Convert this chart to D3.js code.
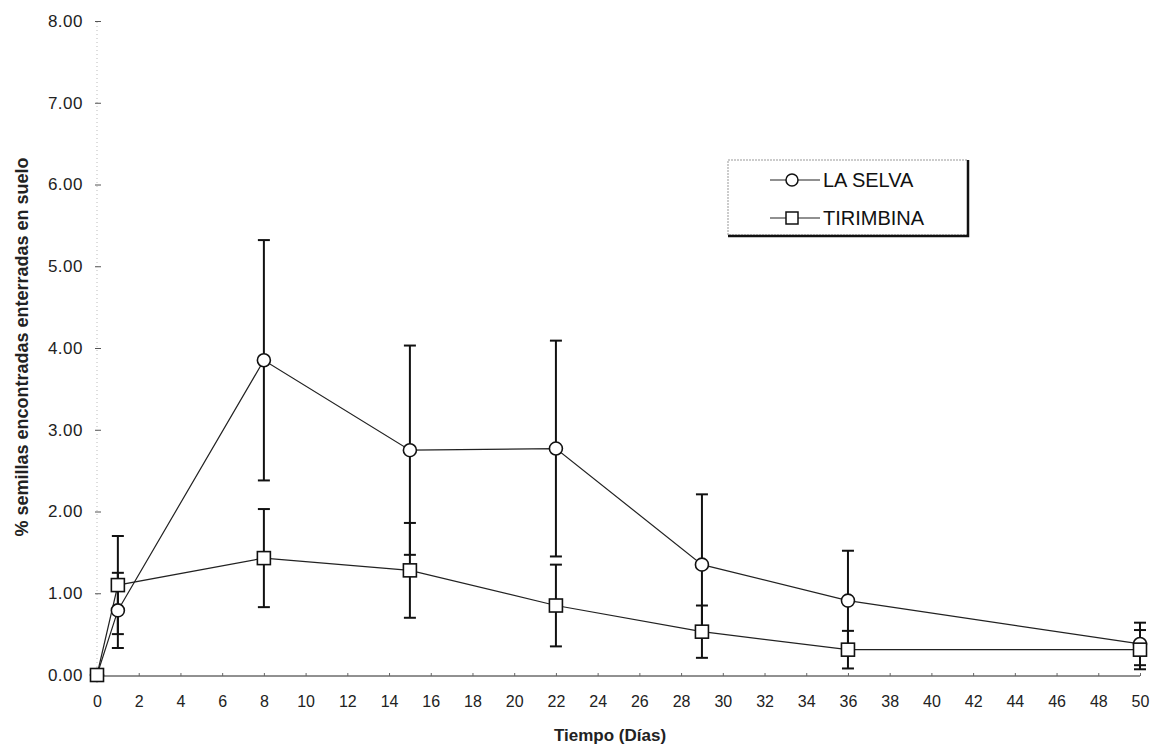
<!DOCTYPE html>
<html>
<head>
<meta charset="utf-8">
<script src="https://cdn.jsdelivr.net/npm/d3@7"></script>
<style>
    body { margin: 0; background: #fff; }
    svg { font-family: "Liberation Sans", Arial, sans-serif; }
</style>
</head>
<body>
<script>
const width = 1151;
const height = 748;
const margin = { top: 21, right: 11, bottom: 73, left: 97 };

// datos
const days = [0, 1, 8, 15, 22, 29, 36, 50];
const laSelva = [0, 0.79, 3.85, 2.75, 2.77, 1.35, 0.91, 0.38];
const laSelvaErr = [0, 0.46, 1.47, 1.28, 1.32, 0.86, 0.61, 0.26];
const tirimbina = [0, 1.10, 1.43, 1.28, 0.85, 0.53, 0.31, 0.31];
const tirimbinaErr = [0, 0.60, 0.60, 0.58, 0.50, 0.32, 0.23, 0.24];

const xTicks = [0, 2, 4, 6, 8, 10, 12, 14, 16, 18, 20, 22, 24, 26, 28, 30, 32, 34, 36, 38, 40, 42, 44, 46, 48, 50];
const yTicks = [0, 1, 2, 3, 4, 5, 6, 7, 8];
const seriesNames = ['LA SELVA', 'TIRIMBINA'];

const svg = d3.select('body').append('svg')
    .attr('width', width)
    .attr('height', height);

const xScale = d3.scaleLinear()
    .domain([0, 50])
    .range([margin.left, width - margin.right]);
const yScale = d3.scaleLinear()
    .domain([0, 8])
    .range([height - margin.bottom, margin.top]);

// eje Y (linea tenue punteada)
svg.append('line')
    .attr('x1', xScale(0)).attr('x2', xScale(0))
    .attr('y1', yScale(0)).attr('y2', yScale(8))
    .style('stroke', '#bbb')
    .style('stroke-width', 1)
    .style('stroke-dasharray', '1,3');

const yAxis = d3.axisLeft(yScale)
    .tickValues(yTicks)
    .tickFormat(d3.format('.2f'))
    .tickSize(4)
    .tickPadding(12);

svg.append('g')
    .attr('class', 'y-axis')
    .attr('transform', 'translate(' + (margin.left + 2) + ',0)')
    .call(yAxis)
    .call(g => g.select('.domain').remove())
    .call(g => g.selectAll('.tick line').style('stroke', '#555').attr('x2', 2).attr('x1', -4))
    .call(g => g.selectAll('.tick text')
        .style('font-size', '17px')
        .style('letter-spacing', '0.5px')
        .style('fill', '#222'));

const xAxis = d3.axisBottom(xScale)
    .tickValues(xTicks)
    .tickSize(-3)
    .tickPadding(20);

svg.append('g')
    .attr('class', 'x-axis')
    .attr('transform', 'translate(0,' + (yScale(0) + 1) + ')')
    .call(xAxis)
    .call(g => g.select('.domain').attr('d', 'M' + xScale(0) + ',0H' + xScale(50)).style('stroke', '#222'))
    .call(g => g.selectAll('.tick line').style('stroke', '#666'))
    .call(g => g.selectAll('.tick text')
        .style('font-size', '16px')
        .style('fill', '#222'));

// lineas de las series
const line = d3.line()
    .x(d => xScale(d.x))
    .y(d => yScale(d.y));

const selvaData = days.map((d, i) => ({ x: d, y: laSelva[i], e: laSelvaErr[i] }));
const tiriData = days.map((d, i) => ({ x: d, y: tirimbina[i], e: tirimbinaErr[i] }));

[selvaData, tiriData].forEach(data => {
    svg.append('path')
        .attr('d', line(data))
        .style('fill', 'none')
        .style('stroke', '#222')
        .style('stroke-width', 1.2);
});

// barras de error
function errorBars(data) {
    const g = svg.append('g');
    const cap = 6;
    data.filter(d => d.e > 0).forEach(d => {
        const cx = xScale(d.x);
        g.append('line')
            .attr('x1', cx).attr('x2', cx)
            .attr('y1', yScale(d.y + d.e)).attr('y2', yScale(d.y - d.e))
            .style('stroke', '#111').style('stroke-width', 2);
        [d.y + d.e, d.y - d.e].forEach(v => {
            g.append('line')
                .attr('x1', cx - cap).attr('x2', cx + cap)
                .attr('y1', yScale(v)).attr('y2', yScale(v))
                .style('stroke', '#111').style('stroke-width', 2);
        });
    });
}
errorBars(selvaData);
errorBars(tiriData);

// marcadores
svg.selectAll('.circ')
    .data(selvaData)
    .enter().append('circle')
    .attr('class', 'circ')
    .attr('cx', d => xScale(d.x))
    .attr('cy', d => yScale(d.y))
    .attr('r', 6.5)
    .style('fill', '#fff')
    .style('stroke', '#111')
    .style('stroke-width', 1.6);

svg.selectAll('.sq')
    .data(tiriData)
    .enter().append('rect')
    .attr('class', 'sq')
    .attr('x', d => xScale(d.x) - 6.5)
    .attr('y', d => yScale(d.y) - 6.5)
    .attr('width', 13)
    .attr('height', 13)
    .style('fill', '#fff')
    .style('stroke', '#111')
    .style('stroke-width', 1.6);

// leyenda
const legend = svg.append('g')
    .attr('transform', 'translate(728,160)');

legend.append('rect')
    .attr('width', 240)
    .attr('height', 75)
    .style('fill', '#fff')
    .style('stroke', '#999')
    .style('stroke-width', 1)
    .style('stroke-dasharray', '2,1');
legend.append('path')
    .attr('d', 'M240,0V76H0')
    .style('fill', 'none')
    .style('stroke', '#111')
    .style('stroke-width', 2.5);

seriesNames.forEach((name, i) => {
    const ly = 20 + i * 38;
    legend.append('line')
        .attr('x1', 42).attr('x2', 92)
        .attr('y1', ly).attr('y2', ly)
        .style('stroke', '#222').style('stroke-width', 1.2);
    if (i === 0) {
        legend.append('circle')
            .attr('cx', 64).attr('cy', ly).attr('r', 6)
            .style('fill', '#fff').style('stroke', '#111').style('stroke-width', 1.5);
    } else {
        legend.append('rect')
            .attr('x', 58).attr('y', ly - 6).attr('width', 12).attr('height', 12)
            .style('fill', '#fff').style('stroke', '#111').style('stroke-width', 1.5);
    }
    legend.append('text')
        .attr('x', 95)
        .attr('y', ly + 7)
        .style('font-size', '20px')
        .style('fill', '#111')
        .text(name);
});

// titulos de ejes
svg.append('text')
    .attr('transform', 'translate(28,' + 347 + ') rotate(-90)')
    .attr('text-anchor', 'middle')
    .style('font-size', '18px')
    .style('font-weight', 'bold')
    .style('fill', '#222')
    .text('% semillas encontradas enterradas en suelo');

svg.append('text')
    .attr('x', 610)
    .attr('y', 741)
    .attr('text-anchor', 'middle')
    .style('font-size', '17px')
    .style('font-weight', 'bold')
    .style('fill', '#222')
    .text('Tiempo (Días)');
</script>
</body>
</html>
